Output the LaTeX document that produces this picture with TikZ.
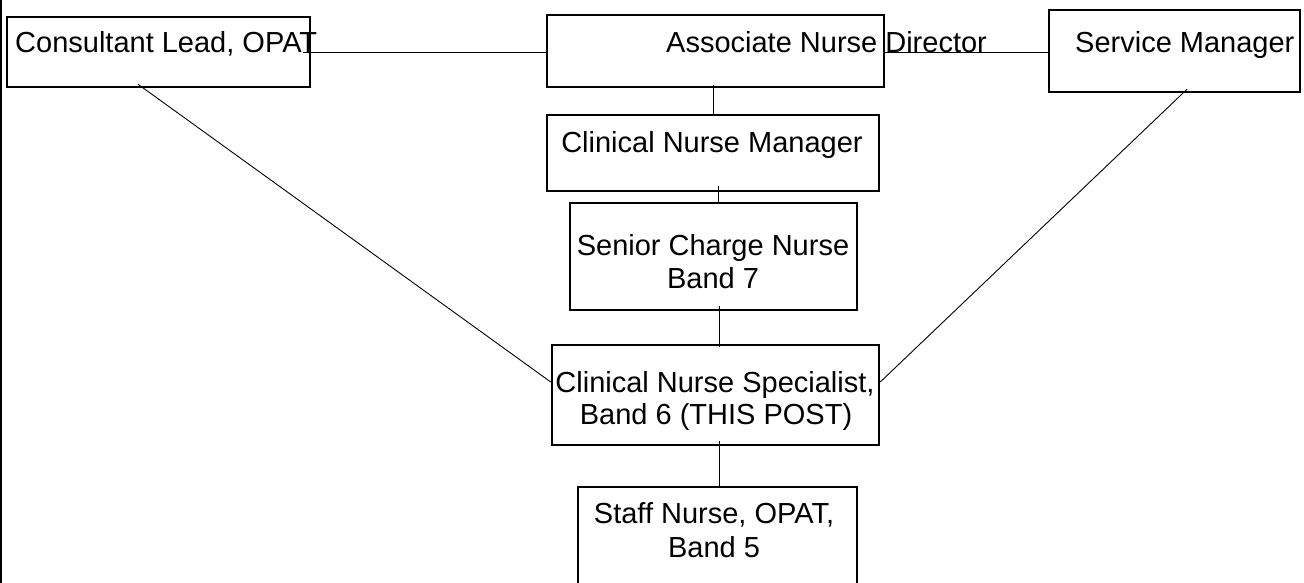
\documentclass[tikz,border=0pt]{standalone}
\usepackage{fontspec}
\setmainfont{Liberation Sans}
\begin{document}
\begin{tikzpicture}[x=1pt,y=-1pt,
  box/.style={draw,line width=2.5pt,rectangle,inner sep=0pt},
  lbl/.style={inner sep=0pt,font=\fontsize{29}{33}\selectfont,align=center},
  conn/.style={line width=0.9pt}]
\useasboundingbox (0,0) rectangle (1304,583);
\fill[white] (0,0) rectangle (1304,583);
\draw[line width=1.5pt] (0.75,0) -- (0.75,583);
% boxes
\node[box,minimum width=303pt,minimum height=70pt] (cl) at (158.5,52) {};
\node[box,minimum width=337pt,minimum height=72pt] (and) at (715.5,51) {};
\node[box,minimum width=251pt,minimum height=82pt] (sm) at (1174.5,51) {};
\node[box,minimum width=332pt,minimum height=76pt] (cnm) at (713,153) {};
\node[box,minimum width=287pt,minimum height=107pt] (scn) at (713.5,256.5) {};
\node[box,minimum width=327pt,minimum height=100pt] (cns) at (715.5,395) {};
\node[box,minimum width=279pt,minimum height=98pt] (sn) at (717.5,536) {};
% connectors
\draw[conn] ([shift={(-8,0)}]cl.east) -- ([shift={(0,1)}]and.west);
\draw[conn] ([shift={(0,1)}]and.east) -- ([shift={(0,1)}]sm.west);
\draw[conn] ([shift={(-2.5,-3)}]and.south) -- ([shift={(0,0)}]cnm.north);
\draw[conn] ([shift={(5,-6)}]cnm.south) -- ([shift={(4.5,0)}]scn.north);
\draw[conn] ([shift={(5.5,-5)}]scn.south) -- ([shift={(3.5,3)}]cns.north);
\draw[conn] ([shift={(3.5,-5)}]cns.south) -- ([shift={(1.5,0)}]sn.north);
\draw[conn] ([shift={(-20.5,-4)}]cl.south) -- ([shift={(0,-13)}]cns.west);
\draw[conn] ([shift={(12.5,-4)}]sm.south) -- ([shift={(0,-13)}]cns.east);
% texts
\node[lbl,anchor=base west] (tcl) at (15,53) {Consultant Lead, OPAT};
\node[lbl,anchor=base west] (tand) at (666,53) {Associate Nurse Director};
\node[lbl,anchor=base west] (tsm) at (1075,53) {Service Manager};
\node[lbl,anchor=base] (tcnm) at (712,153) {Clinical Nurse Manager};
\node[lbl,anchor=base] (tscn1) at (713,255) {Senior Charge Nurse};
\node[lbl,anchor=base] (tscn2) at (713,288) {Band 7};
\node[lbl,anchor=base] (tcns1) at (715,392) {Clinical Nurse Specialist,};
\node[lbl,anchor=base] (tcns2) at (716,424) {Band 6 (THIS POST)};
\node[lbl,anchor=base] (tsn1) at (714,523) {Staff Nurse, OPAT,};
\node[lbl,anchor=base] (tsn2) at (714,557) {Band 5};
\end{tikzpicture}
\end{document}
